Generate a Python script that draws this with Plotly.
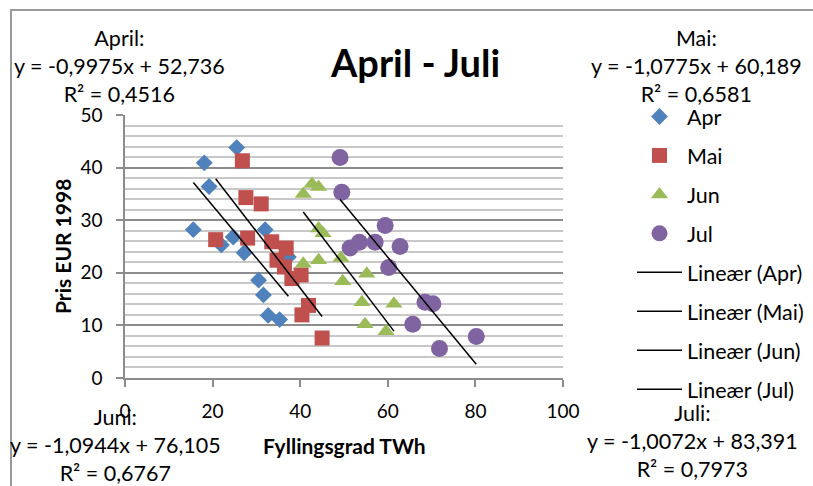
import plotly.graph_objects as go

# ---- data ----
apr_x = [18.1, 25.5, 19.2, 15.6, 24.7, 22.0, 27.2, 32.0, 30.5, 31.6, 32.7, 35.3, 37.3]
apr_y = [40.9, 43.8, 36.4, 28.2, 26.8, 25.3, 23.8, 28.2, 18.6, 15.8, 11.9, 11.1, 23.0]

mai_x = [26.8, 27.6, 31.1, 20.7, 28.0, 33.5, 36.8, 34.7, 36.4, 38.1, 40.2, 41.9, 40.4, 45.0]
mai_y = [41.3, 34.3, 33.1, 26.3, 26.6, 25.9, 24.7, 22.4, 21.1, 18.9, 19.6, 13.8, 12.0, 7.6]

jun_x = [42.7, 44.2, 40.7, 44.2, 45.2, 40.7, 44.2, 49.3, 49.7, 55.2, 54.1, 61.4, 54.8, 59.6]
jun_y = [36.9, 36.3, 35.0, 28.4, 27.5, 21.7, 22.4, 22.8, 18.4, 19.8, 14.4, 14.1, 10.2, 8.9]

jul_x = [49.1, 49.5, 59.4, 51.4, 53.5, 57.1, 62.8, 60.2, 68.5, 70.3, 65.7, 80.2, 71.8]
jul_y = [41.9, 35.3, 29.0, 24.7, 25.8, 25.8, 25.0, 21.0, 14.4, 14.1, 10.2, 7.9, 5.6]

series_names = ["Apr", "Mai", "Jun", "Jul"]
trend_names = ["Lineær (Apr)", "Lineær (Mai)", "Lineær (Jun)", "Lineær (Jul)"]
trend_slopes = [-0.9975, -1.0775, -1.0944, -1.0072]
trend_intercepts = [52.736, 60.189, 76.105, 83.391]
trend_r2 = [0.4516, 0.6581, 0.6767, 0.7973]
trend_months = ["April", "Mai", "Juni", "Juli"]

x_ticks = [0, 20, 40, 60, 80, 100]
y_ticks = [0, 10, 20, 30, 40, 50]

title_text = "April - Juli"
x_title = "Fyllingsgrad TWh"
y_title = "Pris EUR 1998"

# ---- styling ----
colors = ["#4F81BD", "#C0504D", "#9BBB59", "#8064A2"]
symbols = ["diamond", "square", "triangle-up", "circle"]
sizes = [13, 15, 15, 17]
FONT = "Lato"

W, H = 813, 486
L, R, T, B = 125, 250, 115, 108
PW, PH = W - L - R, H - T - B


def px2paper(px, py):
    return (px - L) / PW, (H - B - py) / PH


fig = go.Figure()
xs = [apr_x, mai_x, jun_x, jul_x]
ys = [apr_y, mai_y, jun_y, jul_y]
for i, name in enumerate(series_names):
    fig.add_trace(go.Scatter(
        x=xs[i], y=ys[i], mode="markers", name=name, legendgroup=name,
        marker=dict(symbol=symbols[i], size=sizes[i], color=colors[i], line=dict(width=0)),
    ))

for i, name in enumerate(trend_names):
    x0, x1 = min(xs[i]), max(xs[i])
    a, b = trend_slopes[i], trend_intercepts[i]
    fig.add_trace(go.Scatter(
        x=[x0, x1], y=[a * x0 + b, a * x1 + b], mode="lines", name=name, legendgroup=name,
        line=dict(color="black", width=1.5),
    ))


def fmt(v, nd):
    return f"{v:.{nd}f}".replace(".", ",")


ann_pos = [(119, 66), (696, 66), (115, 445), (692, 441)]
annotations = []
for i in range(4):
    txt = (f"{trend_months[i]}:<br>y = {fmt(trend_slopes[i], 4)}x + {fmt(trend_intercepts[i], 3)}"
           f"<br>R² = {fmt(trend_r2[i], 4)}")
    ax, ay = px2paper(*ann_pos[i])
    annotations.append(dict(text=txt, x=ax, y=ay, xref="paper", yref="paper",
                            xanchor="center", yanchor="middle", showarrow=False,
                            align="center", font=dict(family=FONT, size=21.5, color="black")))

tx, ty = px2paper(415, 62)
annotations.append(dict(text=f"<b>{title_text}</b>", x=tx, y=ty, xref="paper", yref="paper",
                        xanchor="center", yanchor="middle", showarrow=False,
                        font=dict(family=FONT, size=38, color="black")))
xx, xy = px2paper(344, 445)
annotations.append(dict(text=f"<b>{x_title}</b>", x=xx, y=xy, xref="paper", yref="paper",
                        xanchor="center", yanchor="middle", showarrow=False,
                        font=dict(family=FONT, size=21, color="black")))
yx, yy = px2paper(62, 247)
annotations.append(dict(text=f"<b>{y_title}</b>", x=yx, y=yy, xref="paper", yref="paper",
                        xanchor="center", yanchor="middle", showarrow=False, textangle=-90,
                        font=dict(family=FONT, size=21, color="black")))

bx0, by0 = px2paper(11, 700)
bx1, by1 = px2paper(1000, 10)

lx, ly = px2paper(632, 96)

fig.update_layout(
    width=W, height=H,
    margin=dict(l=L, r=R, t=T, b=B, pad=0, autoexpand=False),
    paper_bgcolor="white", plot_bgcolor="white",
    font=dict(family=FONT, size=19, color="black"),
    showlegend=True,
    legend=dict(x=lx, y=ly, xanchor="left", yanchor="top", bgcolor="rgba(0,0,0,0)",
                font=dict(family=FONT, size=21.5, color="black"), tracegroupgap=8,
                itemwidth=45, maxheight=420),
    annotations=annotations,
    shapes=[dict(type="rect", xref="paper", yref="paper", x0=bx0, x1=bx1, y0=by0, y1=by1,
                 line=dict(color="#999999", width=2), layer="below")],
    xaxis=dict(range=[0, 100], tickvals=x_ticks, showgrid=False, zeroline=False,
               showline=True, linecolor="#8c8c8c", linewidth=1.5,
               ticks="outside", ticklen=7, tickcolor="#8c8c8c", tickwidth=1.5,
               tickfont=dict(family=FONT, size=19), ticklabelstandoff=8, fixedrange=True),
    yaxis=dict(range=[0, 50], tickvals=y_ticks, showgrid=True, gridcolor="#8c8c8c", gridwidth=1.5,
               zeroline=False, showline=True, linecolor="#8c8c8c", linewidth=1.5,
               ticks="outside", ticklen=7, tickcolor="#8c8c8c", tickwidth=1.5,
               tickfont=dict(family=FONT, size=19), ticklabelstandoff=10,
               minor=dict(dtick=2, showgrid=True, gridcolor="#c8c8c8", gridwidth=1.5, ticks=""),
               fixedrange=True),
)

fig.write_html("out.html")
